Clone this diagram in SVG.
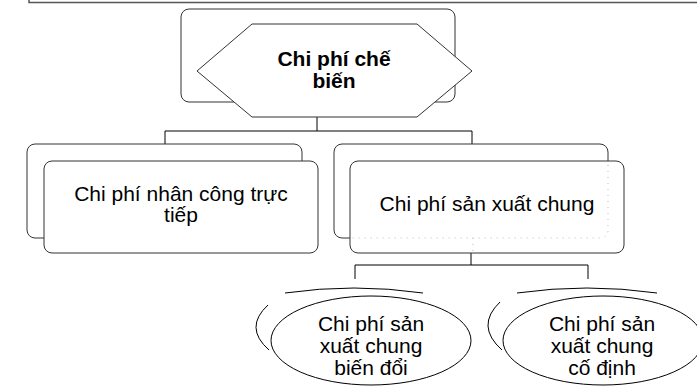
<svg xmlns="http://www.w3.org/2000/svg" width="697" height="386" viewBox="0 0 697 386">
<style>
.bg{fill:#fff;stroke:#333;stroke-width:1}
.sh{fill:none;stroke:#000;stroke-width:1}
.dot{fill:none;stroke:#bbb;stroke-width:1;stroke-dasharray:1 5}
.cn{fill:none;stroke:#000;stroke-width:1}
.t{font-family:"Liberation Sans",Arial,sans-serif;font-size:21px;fill:#000;text-anchor:middle}
.b{font-weight:bold}
</style>
<rect width="697" height="386" fill="#fff"/>
<path d="M29,0 V2.5 H697" fill="none" stroke="#555" stroke-width="1.5"/>
<g id="connectors">
<path class="cn" d="M317,117 V131 M165,131 H472 M165,131 V145 M472,131 V145"/>
<path class="cn" d="M471,253 V265 M355,265 H588 M355,265 V279 M588,265 V279"/>
</g>
<g id="node-top">
<rect class="bg" x="181" y="9" width="274" height="93" rx="8"/>
<polygon class="bg" points="197,71 252,24 417,24 472,71 417,117 252,117"/>
<text class="t b" x="334" y="66">Chi phí chế</text>
<text class="t b" x="334" y="88">biến</text>
</g>
<g id="node-left">
<rect class="bg" x="27" y="144" width="275" height="94" rx="8"/>
<rect class="bg" x="44" y="161" width="274" height="92" rx="8"/>
<text class="t" x="181" y="201">Chi phí nhân công trực</text>
<text class="t" x="181" y="222">tiếp</text>
</g>
<g id="node-right">
<rect class="bg" x="334" y="144" width="274" height="94" rx="8"/>
<rect class="bg" x="350" y="161" width="274" height="92" rx="8"/>
<path class="dot" d="M608,165 V230 Q608,238 600,238 H352 M473,238 V253"/>
<text class="t" x="487" y="211">Chi phí sản xuất chung</text>
</g>
<g id="node-var">
<path class="sh" d="M285,293 Q354,283 423,293 M268,305 Q243.5,327.5 269,350"/>
<ellipse class="sh" cx="371" cy="340.5" rx="100" ry="44.5" fill="#fff"/>
<text class="t" x="371" y="331">Chi phí sản</text>
<text class="t" x="371" y="353">xuất chung</text>
<text class="t" x="371" y="375">biến đổi</text>
</g>
<g id="node-fixed">
<path class="sh" d="M517,293 Q587,283 657,293 M500,302 Q475,326 502,350"/>
<ellipse class="sh" cx="603" cy="340.5" rx="100" ry="44.5" fill="#fff"/>
<text class="t" x="602" y="331">Chi phí sản</text>
<text class="t" x="602" y="353">xuất chung</text>
<text class="t" x="602" y="375">cố định</text>
</g>
</svg>
